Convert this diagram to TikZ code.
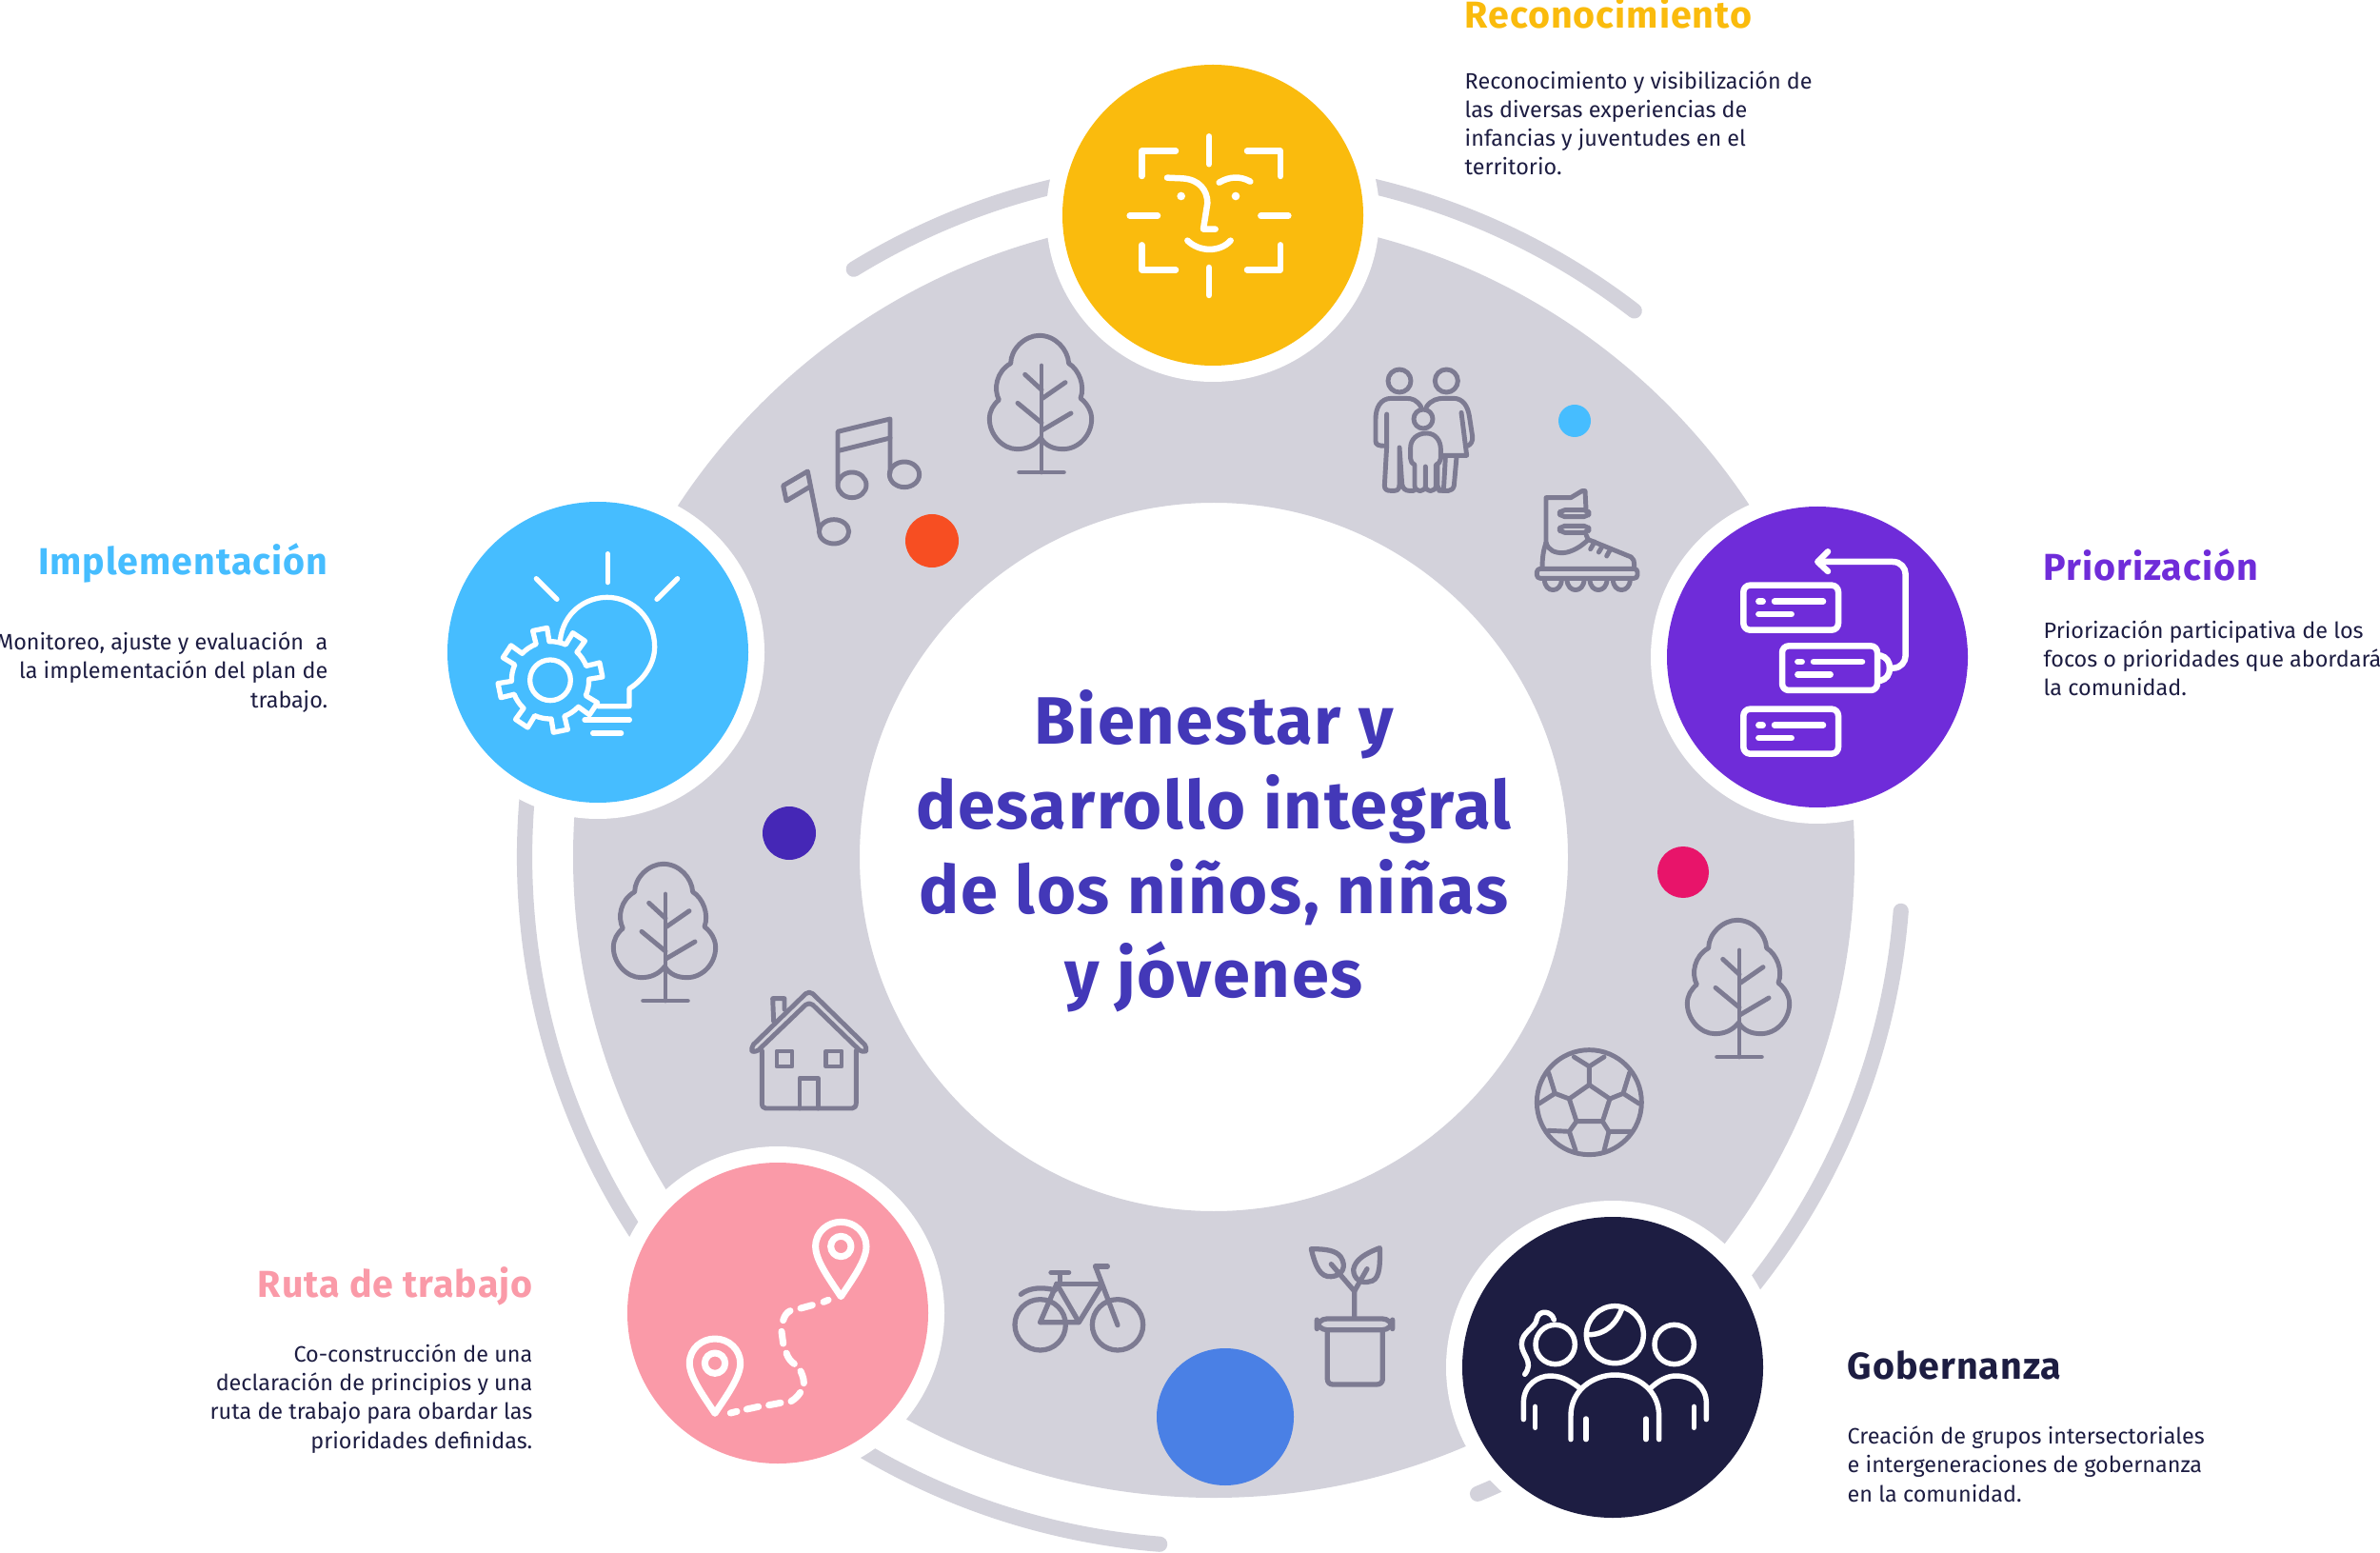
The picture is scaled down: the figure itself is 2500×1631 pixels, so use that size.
\documentclass[tikz,border=0pt]{standalone}
\usepackage{fontspec}
\setmainfont{Fira Sans}
\usetikzlibrary{positioning}

\definecolor{anillo}{HTML}{D3D2DB}
\definecolor{trazo}{HTML}{7D7B92}
\definecolor{amarillo}{HTML}{FABB0D}
\definecolor{violeta}{HTML}{6F2CD9}
\definecolor{celeste}{HTML}{46BDFF}
\definecolor{rosado}{HTML}{FA9AA8}
\definecolor{marino}{HTML}{1D1D42}
\definecolor{titulo}{HTML}{4338B8}
\definecolor{indigo}{HTML}{4527B6}
\definecolor{naranja}{HTML}{F74E22}
\definecolor{fucsia}{HTML}{E8146A}
\definecolor{azul}{HTML}{4A80E5}

\tikzset{
  arcoext/.style={anillo, line width=4.6pt, line cap=round},
  halo/.style={fill=white},
  blanco/.style={white, line width=1.85pt, line cap=round, line join=round},
  gris/.style={trazo, line width=1.4pt, line cap=round, line join=round},
  encabezado/.style={inner sep=0pt, font=\fontsize{11.2}{12}\selectfont\bfseries\addfontfeature{LetterSpace=2.5}},
  cuerpo/.style={inner sep=0pt, text=marino, font=\fontsize{6.65}{8.62}\selectfont},
  arbol/.pic={
    \begin{scope}[shift={(-882,-468)}, gris]
      \draw (880,360) .. controls (860,385) and (835,395) .. (805,395) .. controls (760,395) and (718,350) .. (718,300)
        .. controls (718,275) and (730,255) .. (748,240) .. controls (730,205) and (740,150) .. (785,125)
        .. controls (785,80) and (830,37) .. (875,37) .. controls (925,37) and (965,80) .. (968,125)
        .. controls (1000,145) and (1020,195) .. (1005,235) .. controls (1025,250) and (1040,275) .. (1040,300)
        .. controls (1040,350) and (1000,395) .. (950,395) .. controls (920,395) and (895,385) .. (880,360);
      \draw (882,132) -- (882,468);
      \draw (812,468) -- (952,468);
      \draw (830,160) -- (882,208);
      \draw (957,185) -- (885,235);
      \draw (807,250) -- (882,312);
      \draw (975,282) -- (885,335);
    \end{scope}
  }
}

\begin{document}
\begin{tikzpicture}[x=0.01cm, y=-0.01cm]
  \useasboundingbox (0,0) rectangle (2500,1631);
  \path (1275,900) coordinate (Ringcenter);
  \path (1274,226) coordinate (Reconcenter);
  \path (1909,690) coordinate (Priorcenter);
  \path (628,685) coordinate (Implcenter);
  \path (817,1379) coordinate (Rutacenter);
  \path (1694,1436) coordinate (Gobcenter);

  % Anillo
  \fill[anillo, even odd rule] (Ringcenter) circle (673) (Ringcenter) circle (372);

  % Arcos exteriores
  \draw[arcoext] (Ringcenter) ++(-121.5:724) arc[start angle=-121.5, end angle=-52.4, radius=724];
  \draw[arcoext] (Ringcenter) ++(4.5:724) arc[start angle=4.5, end angle=67.5, radius=724];
  \draw[arcoext] (Ringcenter) ++(94.5:724) arc[start angle=94.5, end angle=198, radius=724];

  % Circulos
  \foreach \c/\col in {Reconcenter/amarillo, Priorcenter/violeta, Implcenter/celeste, Rutacenter/rosado, Gobcenter/marino}{
    \fill[halo] (\c) circle (175);
    \fill[\col] (\c) circle (158);
  }

  % Puntos
  \fill[celeste] (1654,442) circle (17);
  \fill[naranja] (979,568) circle (28);
  \fill[indigo] (829,875) circle (28);
  \fill[fucsia] (1768,916) circle (27);
  \fill[azul] (1287,1488) circle (72);

  % Reconocimiento
  \begin{scope}[shift={(1100,50)}, scale=1/3, blanco]
    \draw (510,280) -- (510,367);
    \draw (510,693) -- (510,780);
    \draw (260,530) -- (348,530);
    \draw (673,530) -- (760,530);
    \draw (298,405) -- (298,326) -- (405,326);
    \draw (630,326) -- (735,326) -- (735,405);
    \draw (298,622) -- (298,700) -- (405,700);
    \draw (630,700) -- (735,700) -- (735,622);
    \draw (378,410) -- (425,412) .. controls (480,415) and (505,450) .. (505,490) -- (492,572) -- (530,572);
    \draw (542,425) .. controls (575,405) and (610,405) .. (640,422);
    \draw (442,608) .. controls (480,645) and (545,645) .. (578,608);
    \fill[white] (422,468) circle (13);
    \fill[white] (594,468) circle (13);
  \end{scope}

  % Priorizacion
  \begin{scope}[shift={(1740,520)}, scale=1/3, blanco]
    \draw[rounded corners=2pt] (274,284) rectangle (573,425);
    \draw[rounded corners=2pt] (396,475) rectangle (696,615);
    \draw[rounded corners=2pt] (274,674) rectangle (573,815);
    \draw (322,335) -- (335,335);
    \draw (372,335) -- (525,335);
    \draw (322,375) -- (425,375);
    \draw (445,525) -- (458,525);
    \draw (495,525) -- (648,525);
    \draw (445,565) -- (548,565);
    \draw (322,725) -- (335,725);
    \draw (372,725) -- (525,725);
    \draw (322,765) -- (425,765);
    \draw (705,505) .. controls (725,510) and (735,525) .. (735,545) .. controls (735,565) and (725,580) .. (705,585);
    \draw (735,545) -- (745,545) .. controls (770,545) and (785,525) .. (785,505) -- (785,250) .. controls (785,230) and (770,210) .. (745,210) -- (510,210);
    \draw (540,178) -- (508,210) -- (540,240);
  \end{scope}

  % Implementacion
  \begin{scope}[shift={(460,520)}, scale=1/3, blanco, line width=1.5pt]
    \draw (535,185) -- (535,275);
    \draw (310,263) -- (375,328);
    \draw (755,263) -- (690,328);
    \draw (385,458) .. controls (395,370) and (465,322) .. (533,322) .. controls (615,322) and (683,390) .. (683,478)
      .. controls (683,530) and (650,580) .. (603,610) -- (603,665) -- (505,665);
    \draw (462,708) -- (604,708);
    \draw (488,750) -- (578,750);
    \begin{scope}[shift={(354,583)}]
      \draw (0,0) circle (64);
      \draw (-111.5:122) \foreach \a in {-101.5,-56.5,...,213.5}{
        -- (\a-10:122) -- (\a-8:165) -- (\a+8:165) -- (\a+10:122) arc[start angle=\a+10, end angle=\a+35, radius=122]
      } -- cycle;
    \end{scope}
  \end{scope}

  % Ruta de trabajo
  \begin{scope}[shift={(650,1210)}, scale=1/3, blanco, line width=2pt]
    \foreach \dx/\dy in {0/0, -397/368}{
      \begin{scope}[shift={(\dx,\dy)}]
        \draw (700,455) .. controls (660,395) and (620,340) .. (620,297) .. controls (620,250) and (660,220) .. (700,220)
          .. controls (745,220) and (780,255) .. (780,297) .. controls (780,340) and (740,395) .. (700,455) -- cycle;
        \draw (700,297) circle (32);
      \end{scope}
    }
    \draw (645,472) -- (660,466);
    \draw (573,492) -- (610,482);
    \draw (518,530) .. controls (522,515) and (530,505) .. (540,500);
    \draw (513,565) -- (518,603);
    \draw (528,633) .. controls (533,648) and (542,660) .. (553,667);
    \draw (573,690) .. controls (580,705) and (583,715) .. (583,728);
    \draw (572,757) .. controls (565,768) and (555,778) .. (543,785);
    \draw (510,790) -- (473,797);
    \draw (440,802) -- (403,810);
    \draw (372,817) -- (352,822);
  \end{scope}

  % Gobernanza
  \begin{scope}[shift={(1520,1270)}, scale=1/3, blanco, line width=1.55pt]
    \draw (341,426) circle (62);
    \draw (529,395) circle (90);
    \draw (716,426) circle (62);
    \draw (447,395) .. controls (500,395) and (535,360) .. (552,310);
    \draw (337,348) .. controls (330,320) and (290,315) .. (283,345) .. controls (280,375) and (235,385) .. (235,425) .. controls (235,460) and (275,480) .. (245,520);
    \draw (241,662) -- (241,610) .. controls (241,550) and (290,525) .. (325,525) .. controls (365,525) and (395,545) .. (420,565);
    \draw (390,725) -- (390,650) .. controls (390,570) and (460,522) .. (529,522) .. controls (600,522) and (668,570) .. (668,650) -- (668,725);
    \draw (640,565) .. controls (665,540) and (695,525) .. (720,525) .. controls (775,525) and (817,560) .. (817,610) -- (817,662);
    \draw (278,622) -- (278,688);
    \draw (438,660) -- (438,725);
    \draw (627,660) -- (627,725);
    \draw (778,622) -- (778,688);
  \end{scope}

  % Arboles
  \pic[scale=1/3] at (1094,496) {arbol};
  \pic[scale=1/3] at (699,1051) {arbol};
  \pic[scale=1/3] at (1827,1110) {arbol};

  % Musica
  \begin{scope}[shift={(800,340)}, scale=1/3, gris]
    \draw (240,500) -- (240,340) -- (405,300) -- (405,470);
    \draw (243,400) -- (405,360);
    \draw (285,508) ellipse (45 and 40);
    \draw (450,475) ellipse (47 and 40);
    \draw (182,650) -- (145,465) -- (68,510) -- (78,558) -- (150,515);
    \draw (228,655) ellipse (47 and 38);
  \end{scope}

  % Familia y patin
  \begin{scope}[shift={(1420,370)}, scale=1/3, gris]
    \draw (150,90) circle (36);
    \draw (298,90) circle (36);
    \draw (225,210) circle (30);
    \draw (218,172) .. controls (205,150) and (190,145) .. (170,145) -- (125,145) .. controls (90,145) and (75,175) .. (75,210) -- (75,280) .. controls (75,292) and (85,295) .. (105,295);
    \draw (110,195) -- (110,295) -- (103,420) .. controls (103,432) and (110,436) .. (122,436) -- (135,436) .. controls (148,436) and (150,425) .. (150,415) -- (150,300) -- (158,415) .. controls (160,430) and (170,436) .. (180,436) -- (195,436);
    \draw (235,172) .. controls (250,150) and (270,145) .. (290,145) -- (320,145) .. controls (350,145) and (365,170) .. (370,200) -- (380,265) .. controls (382,280) and (375,290) .. (365,295);
    \draw (345,190) -- (362,325) -- (285,325);
    \draw (330,330) -- (322,420) .. controls (320,430) and (312,436) .. (305,436) -- (285,436) .. controls (275,436) and (270,428) .. (270,420) -- (270,355);
    \draw (295,330) -- (290,420) .. controls (290,430) and (285,436) .. (275,436);
    \draw (198,355) .. controls (190,350) and (185,345) .. (185,335) -- (185,300) .. controls (185,275) and (205,255) .. (235,255) .. controls (265,255) and (280,280) .. (280,305) -- (280,335) .. controls (280,345) and (272,352) .. (265,355) -- (265,420) .. controls (265,430) and (258,436) .. (250,436) -- (245,436) .. controls (238,436) and (232,430) .. (232,420) -- (232,360) -- (232,420) .. controls (232,430) and (225,436) .. (218,436) -- (212,436) .. controls (205,436) and (198,430) .. (198,420) -- cycle;
    \draw (612,600) -- (612,458) -- (690,458) -- (725,437) -- (735,437) -- (738,495);
    \draw (738,575) -- (745,590) -- (880,645) .. controls (888,650) and (890,655) .. (890,682);
    \draw (612,600) .. controls (620,625) and (640,632) .. (665,632) .. controls (695,630) and (725,610) .. (745,590);
    \draw (612,600) .. controls (605,620) and (600,640) .. (600,682);
    \draw[rounded corners=1.5pt] (655,497) rectangle (747,518);
    \draw[rounded corners=1.5pt] (655,547) rectangle (747,568);
    \draw[rounded corners=1pt] (583,682) rectangle (900,712);
    \foreach \w in {634,705,777,850}{
      \draw (\w-27,715) .. controls (\w-27,760) and (\w+27,760) .. (\w+27,715);
    }
    \draw (752,620) -- (765,597);
    \draw (778,630) -- (790,610);
    \draw (803,642) -- (815,620);
  \end{scope}

  % Casa
  \begin{scope}[shift={(620,890)}, scale=1/3, gris]
    \draw[rounded corners=1.5pt] (503,632) -- (690,450) -- (876,632) -- (860,650) -- (690,485) -- (518,650) -- cycle;
    \draw (578,548) -- (575,476) -- (612,476) -- (612,510);
    \draw (541,640) -- (541,805) .. controls (541,815) and (545,822) .. (553,822) -- (825,822) .. controls (833,822) and (838,815) .. (838,805) -- (838,640);
    \draw (588,642) rectangle (636,690);
    \draw (743,642) rectangle (792,690);
    \draw (660,822) -- (660,727) -- (718,727) -- (718,822);
  \end{scope}

  % Bicicleta y planta
  \begin{scope}[shift={(1040,1280)}, scale=1/3, gris, line width=1.5pt]
    \draw (158,334) circle (80);
    \draw (402,334) circle (80);
    \draw (158,326) -- (280,326) -- (350,212);
    \draw (210,205) -- (345,205);
    \draw (210,205) -- (280,326);
    \draw (210,205) -- (158,326);
    \draw (220,170) -- (220,200);
    \draw (192,169) -- (248,169);
    \draw (332,150) -- (402,335);
    \draw (332,150) -- (370,150);
    \draw (97,238) .. controls (125,215) and (170,215) .. (205,225);
    \draw[rounded corners=3pt] (1030,315) rectangle (1268,350);
    \draw (1063,350) -- (1063,505) .. controls (1063,515) and (1070,522) .. (1080,522) -- (1218,522) .. controls (1230,522) and (1237,515) .. (1237,505) -- (1237,350);
    \draw (1148,310) -- (1148,228) -- (1075,143);
    \draw (1148,228) -- (1188,158);
    \draw (1012,95) .. controls (1060,95) and (1090,100) .. (1105,120) .. controls (1125,150) and (1110,180) .. (1075,182) .. controls (1040,185) and (1025,150) .. (1012,95) -- cycle;
    \draw (1228,92) .. controls (1180,110) and (1150,130) .. (1145,160) .. controls (1145,190) and (1170,205) .. (1195,198) .. controls (1225,195) and (1230,160) .. (1228,92) -- cycle;
  \end{scope}

  % Pelota
  \begin{scope}[shift={(1580,1080)}, scale=1/3, gris]
    \draw (268,233) circle (165);
    \draw (268,178) -- (333,222) -- (310,293) -- (228,293) -- (205,222) -- cycle;
    \draw (268,178) -- (268,120) -- (220,90);
    \draw (268,120) -- (315,90);
    \draw (333,222) -- (375,205) -- (395,140);
    \draw (375,205) -- (425,237);
    \draw (205,222) -- (160,205) -- (140,140);
    \draw (160,205) -- (110,237);
    \draw (310,293) -- (330,325) -- (400,325);
    \draw (330,325) -- (315,385);
    \draw (228,293) -- (205,325) -- (140,322);
    \draw (205,325) -- (225,385);
  \end{scope}

  % Titulo
  \node[align=center, text=titulo, font=\fontsize{20}{25.2}\selectfont\bfseries\addfontfeature{LetterSpace=2.5}] (lema) at (1275,894)
    {Bienestar y\\desarrollo integral\\de los niños, niñas\\y jóvenes};

  % Textos
  \node[encabezado, anchor=base west, text=amarillo] (tRecon) at (1538,30) {Reconocimiento};
  \node[cuerpo, anchor=base west, align=left] (cRecon) at (1538,184)
    {Reconocimiento y visibilización de\\las diversas experiencias de\\infancias y juventudes en el\\territorio.};
  \node[encabezado, anchor=base west, text=violeta] (tPrior) at (2146,610) {Priorización};
  \node[cuerpo, anchor=base west, align=left] (cPrior) at (2146,731)
    {Priorización participativa de los\\focos o prioridades que abordará\\la comunidad.};
  \node[encabezado, anchor=base east, text=celeste] (tImpl) at (345,604) {Implementación};
  \node[cuerpo, anchor=base east, align=right] (cImpl) at (345,743)
    {Monitoreo, ajuste y evaluación\ \ a\\la implementación del plan de\\trabajo.};
  \node[encabezado, anchor=base east, text=rosado] (tRuta) at (560,1362) {Ruta de trabajo};
  \node[cuerpo, anchor=base east, align=right] (cRuta) at (560,1521)
    {Co-construcción de una\\declaración de principios y una\\ruta de trabajo para obardar las\\prioridades definidas.};
  \node[encabezado, anchor=base west, text=marino] (tGob) at (1940,1448) {Gobernanza};
  \node[cuerpo, anchor=base west, align=left] (cGob) at (1940,1577)
    {Creación de grupos intersectoriales\\e intergeneraciones de gobernanza\\en la comunidad.};
\end{tikzpicture}
\end{document}
